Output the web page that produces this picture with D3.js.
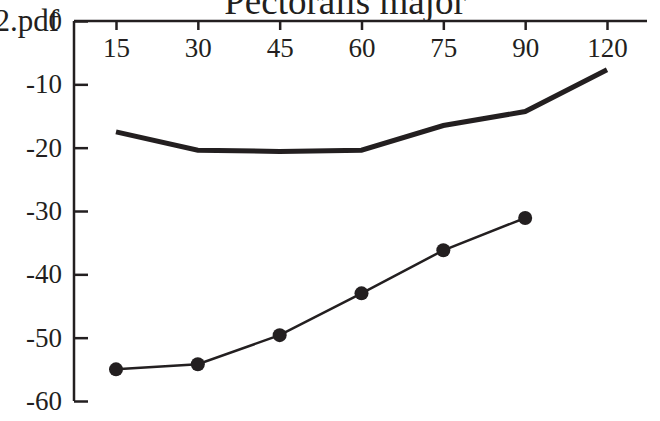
<!DOCTYPE html>
<html>
<head>
<meta charset="utf-8">
<script src="https://cdn.jsdelivr.net/npm/d3@7"></script>
<style>
  html, body { margin: 0; padding: 0; background: #fff; }
  svg text { font-family: "Liberation Serif", "Times New Roman", serif; fill: #231f20; }
</style>
</head>
<body>
<div id="chart"></div>
<script>
// data
const times = ['15', '30', '45', '60', '75', '90', '120'];
const yTicks = [0, -10, -20, -30, -40, -50, -60];
const thickSeries = [-17.5, -20.4, -20.6, -20.4, -16.5, -14.3, -7.7];
const dotSeries = [-55.0, -54.2, -49.6, -43.0, -36.2, -31.1];

const W = 660, H = 421;
const ink = '#231f20';

const svg = d3.select('#chart').append('svg')
  .attr('width', W).attr('height', H);

const x = d3.scalePoint().domain(times).range([116, 607]);
const y = d3.scaleLinear().domain([0, -60]).range([21, 401]);
const x0 = 74, x1 = 647;

// stray file name at top-left
svg.append('text').attr('x', 59).attr('y', 31).attr('text-anchor', 'end')
  .attr('font-size', 31).text('2.pdf');

// title, clipped by the top edge
svg.append('text').attr('x', 345).attr('y', 14).attr('text-anchor', 'middle')
  .attr('font-size', 37).text('Pectoralis major');

// x axis along the top, ticks pointing down
const xAxis = svg.append('g').attr('transform', `translate(0,${y(0)})`)
  .call(d3.axisBottom(x).tickSize(9).tickPadding(8));
xAxis.select('.domain').attr('d', `M${x0},0H${x1}`);

// y axis, ticks pointing right
const yAxis = svg.append('g').attr('transform', `translate(${x0},0)`)
  .call(d3.axisLeft(y).tickValues(yTicks).tickSize(-14).tickPadding(12)
    .tickFormat(d => d === 0 ? '0' : '-' + Math.abs(d)));
yAxis.select('.domain').attr('d', `M0,${y(0)}V${y(-60)}`);

[xAxis, yAxis].forEach(a => {
  a.selectAll('.domain').attr('stroke', ink).attr('stroke-width', 2.5);
  a.selectAll('.tick line').attr('stroke', ink).attr('stroke-width', 2.5);
  a.selectAll('.tick text').attr('font-size', 27).attr('fill', ink)
    .attr('font-family', '"Liberation Serif", serif');
});
xAxis.selectAll('.tick text').attr('dy', '0.71em');

// thick line series
const line = d3.line().x((d, i) => x(times[i])).y(d => y(d));
svg.append('path').datum(thickSeries)
  .attr('d', line).attr('fill', 'none')
  .attr('stroke', ink).attr('stroke-width', 5)
  .attr('stroke-linejoin', 'miter');

// thin line with dots
svg.append('path').datum(dotSeries)
  .attr('d', line).attr('fill', 'none')
  .attr('stroke', ink).attr('stroke-width', 2.5);
svg.selectAll('circle.pt').data(dotSeries).join('circle')
  .attr('class', 'pt')
  .attr('cx', (d, i) => x(times[i]))
  .attr('cy', d => y(d))
  .attr('r', 7).attr('fill', ink);
</script>
</body>
</html>
